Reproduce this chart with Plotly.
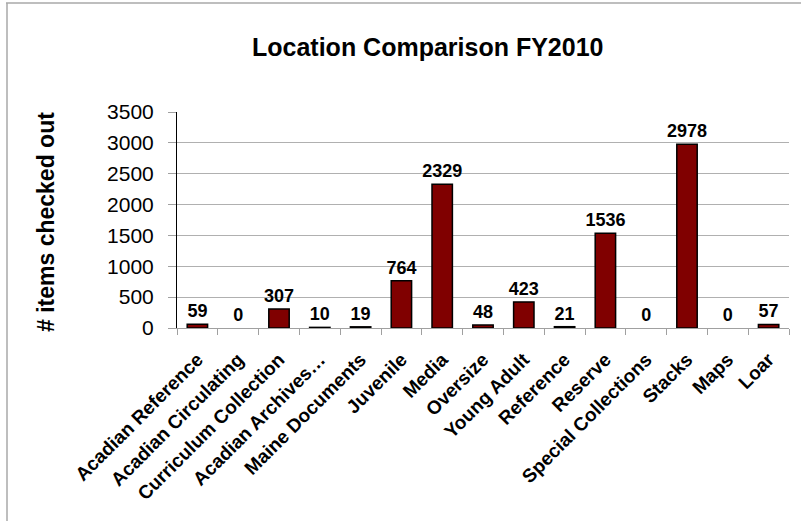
import plotly.graph_objects as go

categories = ["Acadian Reference", "Acadian Circulating", "Curriculum Collection",
              "Acadian Archives…", "Maine Documents", "Juvenile", "Media", "Oversize",
              "Young Adult", "Reference", "Reserve", "Special Collections", "Stacks",
              "Maps", "Loar"]
values = [59, 0, 307, 10, 19, 764, 2329, 48, 423, 21, 1536, 0, 2978, 0, 57]
y_ticks = [0, 500, 1000, 1500, 2000, 2500, 3000, 3500]

FONT = "Liberation Sans, Arial, sans-serif"
L, R, T, B = 177, 12, 112, 201
W, H = 801, 529
pw, ph = W - L - R, H - T - B

fig = go.Figure(go.Bar(
    x=categories, y=values,
    marker=dict(color="#800000",
                line=dict(color="black", width=[1.5 if v > 0 else 0 for v in values])),
    text=[str(v) for v in values], textposition="outside",
    textfont=dict(family=FONT, size=18, color="black", weight="bold"),
    cliponaxis=False,
))

fig.update_layout(
    width=W, height=H,
    margin=dict(l=L, r=R, t=T, b=B, autoexpand=False),
    paper_bgcolor="white", plot_bgcolor="white",
    bargap=0.5, showlegend=False,
    font=dict(family=FONT, color="black"),
    uniformtext=dict(minsize=18, mode="show"),
)
fig.update_xaxes(
    automargin=False,
    tickson="boundaries", ticks="outside", ticklen=6, tickcolor="#A0A0A0",
    ticklabelstandoff=12,
    showline=True, linecolor="#A0A0A0", linewidth=1, showgrid=False,
    tickangle=-45, tickfont=dict(family=FONT, size=19, color="black", weight="bold"),
)
fig.update_yaxes(
    automargin=False,
    range=[0, 3500], tickvals=y_ticks, ticks="outside", ticklen=8, tickcolor="#A0A0A0",
    ticklabelstandoff=10,
    showline=True, linecolor="black", linewidth=1,
    showgrid=True, gridcolor="#B0B0B0", gridwidth=1, zeroline=False,
    tickfont=dict(family=FONT, size=21, color="black"),
)

# chart title
fig.add_annotation(
    text="Location Comparison FY2010", xref="paper", yref="paper",
    x=(427 - L) / pw, y=(328 - 47) / ph, yanchor="middle", xanchor="center",
    showarrow=False, font=dict(family=FONT, size=25, color="black", weight="bold"),
)
# y-axis title
fig.add_annotation(
    text="# items checked out", xref="paper", yref="paper",
    x=(46 - L) / pw, y=(328 - 222) / ph, yanchor="middle", xanchor="center",
    textangle=-90, showarrow=False,
    font=dict(family=FONT, size=23, color="black", weight="bold"),
)

# chart-area border (top and left edges visible)
fig.add_shape(type="line", xref="paper", yref="paper",
              x0=(6 - L) / pw, x1=(W + 5 - L) / pw, y0=(328 - 3) / ph, y1=(328 - 3) / ph,
              line=dict(color="#A8A8A8", width=1.5))
fig.add_shape(type="line", xref="paper", yref="paper",
              x0=(7 - L) / pw, x1=(7 - L) / pw, y0=(328 - 3) / ph, y1=(328 - 521) / ph,
              line=dict(color="#A8A8A8", width=1.5))

fig.write_html("out.html", config={"displayModeBar": False},
               post_script="document.body.style.margin='0px';")
